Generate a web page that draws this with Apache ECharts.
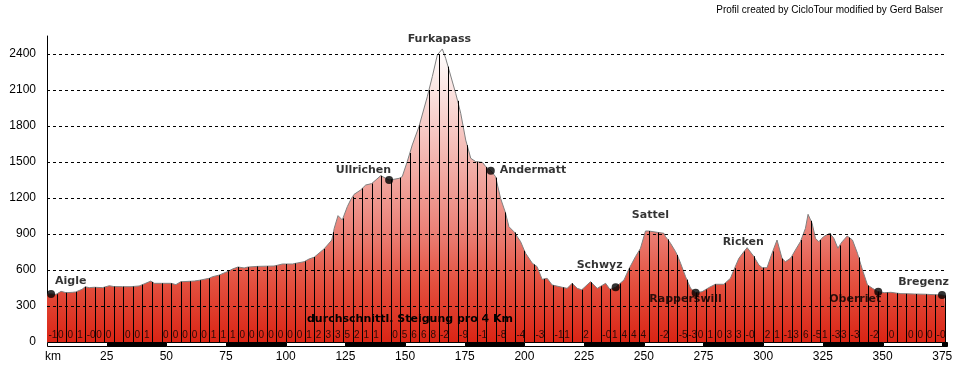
<!DOCTYPE html>
<html><head><meta charset="utf-8">
<script src="https://cdn.jsdelivr.net/npm/echarts@6/dist/echarts.min.js"></script>
<style>html,body{margin:0;padding:0;background:#fff}#c{width:959px;height:367px}</style>
</head><body><div id="c"></div>
<script>
// ---- data ----
const kmValues = [0,1.6,3.8,4,5.9,8,10.7,12,12.8,14.7,16,16.7,17.7,19.8,20,23.3,24,26.1,28,31.6,32,35.2,36,38.6,40,40.7,43.5,44,44.9,48,49.8,52,52.6,54,56,60,61.7,64,68,69.3,72,74.9,76,77.7,80,80.5,82.6,84,84.7,88,92,95.1,96,98.6,100,102.8,104,107.7,108,109.8,111.9,112,114.7,116,117.5,119.3,120,120.3,121.9,123.7,124,125.8,127.3,128,128.6,131.4,132,133.5,136,136.3,139.8,140,141.9,143.3,144,145.4,147.5,148,148.8,150.9,152,153,155.8,156,159.3,160,161.4,163.5,164,165.6,167,168,168.4,171.2,172,173.3,175.4,176,177.5,179.6,180,182.4,183.8,184,185.9,187.9,188,190,192,193.5,195.6,196,198.4,200,200.5,203.3,204,205.3,207.4,208,209.5,211.6,212,215.8,216,217.9,220,222.1,224,227.7,228,230.5,232,234,235.8,236,238.2,240,241.7,243.7,244,246.5,248,248.6,250.7,252,255.6,256,258.4,259.1,260,261.2,263.3,264,265.4,267.5,268,269.6,271.7,272,274.4,276,277.2,280,283.5,284,286.3,287.7,288,289.8,292,293.3,296,298.2,299.6,300,301.6,303.7,304,305.8,307.9,308,309.3,311.4,312,313.5,315.6,316,317.7,318.8,320,320.5,321.9,323.3,324,325.3,327.9,328,329.6,331.3,332,333.1,335.2,336,337.4,339.5,340,341.6,343.7,344,345.8,348,350.7,352,353.5,356,357.7,360,363.3,364,368,368.9,372,374.9,376,376.6];
const elevations = [400,401,397,398,422,411,414,417,419,439,460,469,453,456,456,453,457,469,462,461,461,461,462,467,478,483,508,500,489,489,489,489,489,478,502,506,508,515,531,544,557,581,590,608,625,628,617,624,628,630,632,633,637,650,650,650,655,669,672,692,706,708,753,775,808,850,915,947,1053,1017,1030,1128,1189,1210,1230,1267,1280,1308,1320,1322,1386,1385,1364,1350,1355,1356,1364,1368,1378,1503,1575,1642,1794,1805,2044,2100,2211,2392,2400,2442,2364,2295,2267,2072,2010,1906,1683,1640,1531,1503,1502,1497,1461,1458,1428,1378,1370,1197,1080,961,919,913,836,760,739,656,646,628,522,525,531,475,472,456,455,447,489,447,435,503,498,447,465,489,439,442,456,487,517,606,615,711,760,781,925,925,914,912,906,878,855,822,753,725,656,544,520,447,411,412,419,438,453,481,481,490,531,600,615,697,755,786,715,642,619,619,619,739,755,850,697,695,669,697,715,767,836,850,947,1064,1010,989,864,836,850,878,906,904,864,781,805,836,883,870,850,739,705,600,475,470,447,420,411,412,414,407,403,402,400,400,398,397,394,392,386,386];
const yTicks = [0,300,600,900,1200,1500,1800,2100,2400];
const xTicks = [0,25,50,75,100,125,150,175,200,225,250,275,300,325,350,375];
const xMax = 377;
const yMax = 2550;
const gradeStepKm = 4;
const gradeLabels = ['-1','0','0','1','-0','0','0','','0','0','1','','0','0','0','0','0','1','1','1','0','0','0','0','0','0','0','1','2','3','3','5','2','1','1','','0','5','6','6','8','-2','','-9','','-1','','-8','','-4','','-3','','-1','1','','2','','-0','1','4','4','4','','-2','','-5','-3','0','1','0','3','3','-0','','2','1','-1','3','6','-5','1','-3','3','-3','','-2','','0','','0','0','0','-0'];
const placeNames = ['Aigle','Ullrichen','Furkapass','Andermatt','Schwyz','Sattel','Rapperswill','Ricken','Oberriet','Bregenz'];
const placeKm = [1.7,143.3,165.6,185.9,238.2,251.5,271.7,293.3,348.2,374.9];
const placeElev = [400,1350,2442,1428,456,925,411,786,419,392];
const placeDot = [1,1,0,1,1,0,1,0,1,1];
const titleText = 'Profil created by CicloTour modified by Gerd Balser';
const gradeCaption = 'durchschnittl. Steigung pro 4 Km';

// ---- styles ----
const placeLabelStyle = {
  'Aigle':      {align:'left',   offset:[4,-13]},
  'Ullrichen':  {align:'right',  offset:[2,-10]},
  'Furkapass':  {align:'center', offset:[-3,-10]},
  'Andermatt':  {align:'left',   offset:[9,0]},
  'Schwyz':     {align:'right',  offset:[7,-22]},
  'Sattel':     {align:'center', offset:[3,-16]},
  'Rapperswill':{align:'center', offset:[-10,6]},
  'Ricken':     {align:'center', offset:[-4,-6]},
  'Oberriet':   {align:'right',  offset:[3,7]},
  'Bregenz':    {align:'right',  offset:[7,-13]}
};
const boldFont = 'DejaVu Sans';
const axisFont = 'Liberation Sans';

const profile = kmValues.map((k,i)=>[k, elevations[i]]);
const divisions = profile.filter(p => p[0] > 0 && p[0] % gradeStepKm === 0);
const segs = [];
for (let i = 0; i < xTicks.length; i++) {
  const s = xTicks[i], e = i + 1 < xTicks.length ? xTicks[i+1] : xMax;
  if (e > s) segs.push([s, e, i % 2, 0]);
}
const gradeData = [];
gradeLabels.forEach((t,i)=>{ if (t !== '') gradeData.push({name:t, value:[i*gradeStepKm, 0]}); });
const placeData = placeNames.map((n,i)=>({
  name:n, value:[placeKm[i], placeElev[i]],
  symbolSize: placeDot[i] ? 8 : 1,
  itemStyle:{color: placeDot[i] ? '#000' : 'rgba(0,0,0,0)'},
  label: Object.assign({show:true, position:'inside', verticalAlign:'middle'}, placeLabelStyle[n])
}));

const chart = echarts.init(document.getElementById('c'), null, {renderer:'canvas'});
chart.setOption({
  animation:false,
  backgroundColor:'#fff',
  title:{text:titleText, right:16, top:5, padding:0,
    textStyle:{fontFamily:axisFont, fontSize:10, fontWeight:'normal', color:'#000'}},
  grid:{left:47, right:12, top:36, bottom:25, containLabel:false},
  xAxis:{type:'value', min:0, max:xMax, interval:25,
    axisLine:{show:false}, axisTick:{show:false}, splitLine:{show:false},
    axisLabel:{customValues:xTicks, margin:9, color:'#000', fontFamily:axisFont, fontSize:12,
      formatter:v => v === 0 ? '{k|km}' : String(v),
      rich:{k:{fontFamily:axisFont, fontSize:12, color:'#000', padding:[0,0,0,12]}}}},
  yAxis:{type:'value', min:0, max:yMax, interval:300,
    axisLine:{show:true, lineStyle:{color:'#000', width:1}},
    axisTick:{show:false},
    splitLine:{show:false},
    axisLabel:{customValues:yTicks, margin:11, color:'#000', fontFamily:axisFont, fontSize:12,
      formatter:v => String(v)}},
  graphic:[{type:'text', left:307, top:314, z:100,
    style:{text:gradeCaption, font:'bold 11px "DejaVu Sans"', fill:'#000'}}],
  series:[
    {type:'line', data:profile, symbol:'none', smooth:false, z:2,
      lineStyle:{color:'#808080', width:1},
      areaStyle:{opacity:1, color:new echarts.graphic.LinearGradient(0,0,0,1,[
        {offset:0, color:'#ffffff'},
        {offset:0.35, color:'#f4bab4'},
        {offset:0.62, color:'#eb8177'},
        {offset:0.8, color:'#e3503f'},
        {offset:1, color:'#da2414'}])},
      markLine:{silent:true, symbol:['none','none'], label:{show:false},
        lineStyle:{type:[3,3], color:'#000', width:1},
        data:yTicks.filter(v=>v>0).map(v=>({yAxis:v}))}},
    {type:'custom', data:divisions, encode:{x:0, y:1}, z:3, clip:false,
      renderItem:(params, api)=>{
        const top = api.coord([api.value(0), api.value(1)]);
        const bot = api.coord([api.value(0), 0]);
        const x = Math.round(top[0]) + 0.5;
        return {type:'line', shape:{x1:x, y1:top[1], x2:x, y2:bot[1]}, style:{stroke:'#000', lineWidth:1}};
      }},
    {type:'custom', data:segs, encode:{x:[0,1], y:3}, z:4, clip:false,
      renderItem:(params, api)=>{
        const a = api.coord([api.value(0), 0]);
        const b = api.coord([api.value(1), 0]);
        const x0 = Math.round(a[0]) + 0.5, x1 = Math.round(b[0]) + 0.5;
        const y0 = Math.round(a[1]) + 0.5;
        return {type:'rect', shape:{x:x0, y:y0, width:x1-x0, height:4},
          style:{fill: api.value(2) ? '#000' : '#fff', stroke:'#000', lineWidth:1}};
      }},
    {type:'scatter', data:gradeData, symbolSize:1, z:6,
      itemStyle:{color:'rgba(0,0,0,0)'},
      label:{show:true, formatter:'{b}', position:'inside', align:'left', verticalAlign:'middle',
        offset:[1.5,-7], fontFamily:axisFont, fontSize:10, color:'#000'}},
    {type:'scatter', data:placeData, z:7,
      label:{formatter:'{b}', fontFamily:boldFont, fontWeight:'bold', fontSize:11, color:'#000'}}
  ]
});
</script></body></html>
